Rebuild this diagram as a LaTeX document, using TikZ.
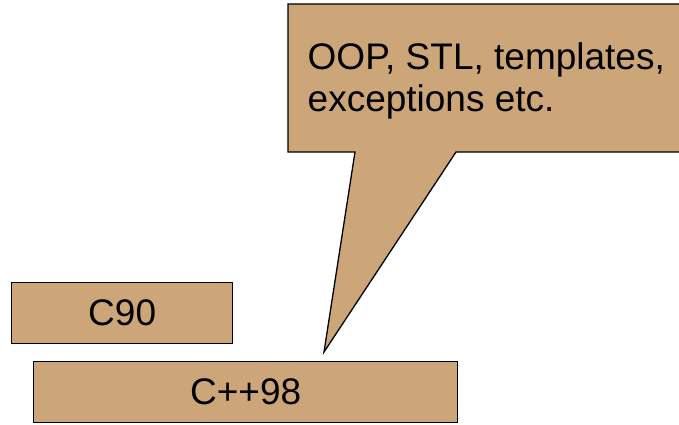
\documentclass[tikz,border=0pt]{standalone}
\usepackage{fontspec}
\setmainfont{Liberation Sans}
\definecolor{tan}{RGB}{204,166,121}
\begin{document}
\begin{tikzpicture}[x=1pt,y=-1pt,
  box/.style={draw=black,fill=tan,line width=1.3pt,inner sep=0pt,anchor=north west},
  txt/.style={font=\fontsize{37}{43}\selectfont,text=black}]
\useasboundingbox (0,0) rectangle (679,425);
\clip (0,0) rectangle (679,425);
% callout
\coordinate (tip) at (324,352);
\filldraw[fill=tan,draw=black,line width=1.3pt,line join=miter]
  (288,4) -- (690,4) -- (690,152) -- (456,152) -- (tip) -- (355,152) -- (288,152) -- cycle;
\node[txt,anchor=base west,align=left,inner sep=0pt] (call) at (307.5,112)
  {OOP, STL, templates,\\exceptions etc.};
% boxes
\node[box,minimum width=221pt,minimum height=61pt] (c90) at (11,282) {};
\node[txt] (c90t) at (c90.center) {C90};
\node[box,minimum width=424pt,minimum height=61pt] (cpp) at (33,361) {};
\node[txt] (cppt) at (cpp.center) {C++98};
\end{tikzpicture}
\end{document}
